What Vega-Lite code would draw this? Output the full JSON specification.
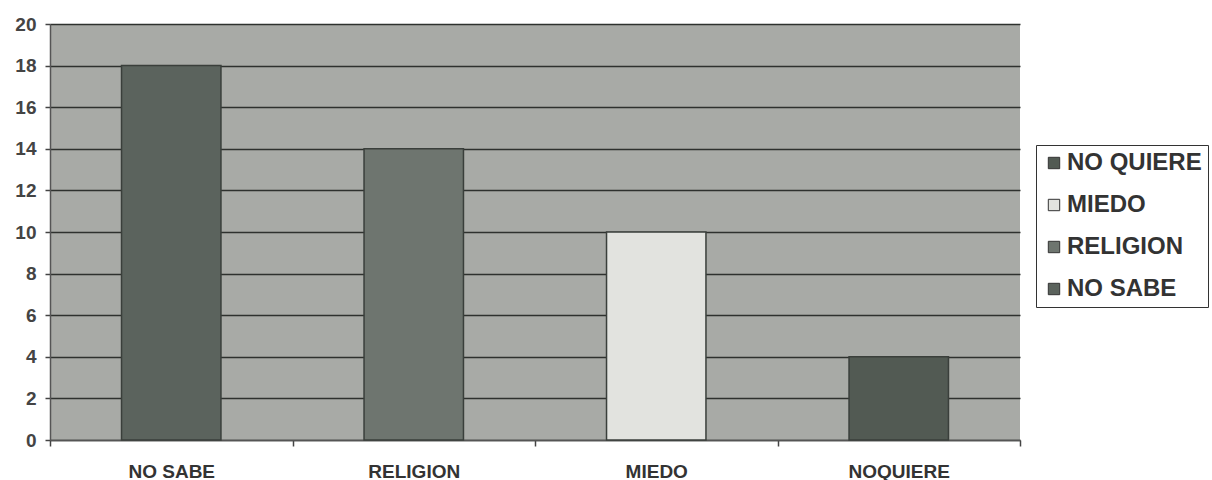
{
  "$schema": "https://vega.github.io/schema/vega-lite/v6.json",
  "autosize": "none",
  "width": 970,
  "height": 416,
  "padding": {"left": 50, "top": 24, "right": 192, "bottom": 40},
  "background": "white",
  "config": {
    "view": {"fill": "#a8aaa6", "stroke": null},
    "font": "Liberation Sans"
  },
  "data": {
    "values": [
      {"categoria": "NO SABE", "serie": "NO SABE", "valor": 18},
      {"categoria": "RELIGION", "serie": "RELIGION", "valor": 14},
      {"categoria": "MIEDO", "serie": "MIEDO", "valor": 10},
      {"categoria": "NOQUIERE", "serie": "NO QUIERE", "valor": 4}
    ]
  },
  "mark": {"type": "bar", "width": {"band": 0.41}, "stroke": "#3a3f3b", "strokeWidth": 1.5},
  "encoding": {
    "x": {
      "field": "categoria",
      "type": "nominal",
      "sort": ["NO SABE", "RELIGION", "MIEDO", "NOQUIERE"],
      "scale": {"paddingInner": 0, "paddingOuter": 0},
      "axis": {
        "title": null,
        "labelAngle": 0,
        "labelFont": "Liberation Sans",
        "labelFontWeight": "bold",
        "labelFontSize": 19,
        "labelColor": "#333333",
        "labelPadding": 16,
        "tickBand": "extent",
        "tickSize": 6,
        "tickColor": "#444444",
        "tickWidth": 1.5,
        "domainColor": "#555555",
        "domainWidth": 1.5,
        "grid": false
      }
    },
    "y": {
      "field": "valor",
      "type": "quantitative",
      "scale": {"domain": [0, 20], "nice": false},
      "axis": {
        "title": null,
        "values": [0, 2, 4, 6, 8, 10, 12, 14, 16, 18, 20],
        "labelFont": "Liberation Sans",
        "labelFontWeight": "bold",
        "labelFontSize": 19,
        "labelColor": "#444444",
        "labelPadding": 9,
        "tickSize": 5,
        "tickColor": "#444444",
        "tickWidth": 1.5,
        "domainColor": "#555555",
        "domainWidth": 1.5,
        "grid": true,
        "gridColor": "#2e312e",
        "gridWidth": 1.5,
        "gridOpacity": 1
      }
    },
    "color": {
      "field": "serie",
      "type": "nominal",
      "scale": {
        "domain": ["NO QUIERE", "MIEDO", "RELIGION", "NO SABE"],
        "range": ["#525a53", "#e2e3df", "#6e756f", "#5b635d"]
      },
      "legend": {
        "title": null,
        "orient": "none",
        "legendX": 986,
        "legendY": 121,
        "symbolType": "square",
        "symbolSize": 130,
        "symbolStrokeColor": "#333333",
        "symbolStrokeWidth": 1,
        "labelFont": "Liberation Sans",
        "labelFontWeight": "bold",
        "labelFontSize": 24,
        "labelColor": "#333333",
        "labelOffset": 1,
        "rowPadding": 18,
        "padding": 6,
        "strokeColor": "#333333",
        "fillColor": "white"
      }
    }
  }
}
